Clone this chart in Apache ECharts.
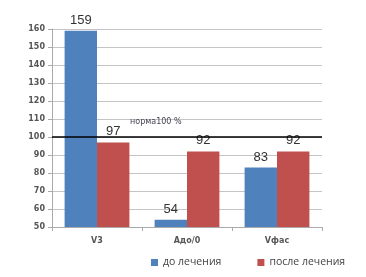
<!DOCTYPE html>
<html><head><meta charset="utf-8">
<script src="https://cdn.jsdelivr.net/npm/echarts@6/dist/echarts.min.js"></script>
<style>html,body{margin:0;padding:0;background:#fff}#c{width:366px;height:277px}</style>
</head><body><div id="c"></div>
<script>
const categories = ['V3', 'Адо/0', 'Vфас'];
const beforeValues = [159, 54, 83];
const afterValues = [97, 92, 92];
const seriesNames = ['до лечения', 'после лечения'];
const normValue = 100;
const normLabel = 'норма100 %';

const chart = echarts.init(document.getElementById('c'));
const dataLabel = {show: true, position: 'top', distance: 4, color: '#333', fontSize: 13, fontFamily: 'Liberation Sans'};
chart.setOption({
  animation: false,
  grid: {left: 52, right: 44, top: 29, bottom: 50},
  legend: {
    bottom: 4, left: 146, itemWidth: 7, itemHeight: 7, itemGap: 36, icon: 'rect',
    textStyle: {color: '#444', fontSize: 10.5, fontFamily: 'Open Sans'},
    data: seriesNames
  },
  xAxis: {
    type: 'category', data: categories,
    axisLine: {lineStyle: {color: '#aaa'}},
    axisTick: {show: true, length: 4, lineStyle: {color: '#aaa'}},
    axisLabel: {color: '#555', fontSize: 8, fontWeight: 'bold', margin: 10, fontFamily: 'DejaVu Sans'}
  },
  yAxis: {
    type: 'value', min: 50, max: 160, interval: 10,
    axisLine: {show: true, lineStyle: {color: '#aaa'}},
    axisTick: {show: true, length: 4, lineStyle: {color: '#aaa'}},
    splitLine: {lineStyle: {color: '#c4c4c4'}},
    axisLabel: {color: '#555', fontSize: 8, fontWeight: 'bold', margin: 7, fontFamily: 'DejaVu Sans'}
  },
  series: [
    {name: seriesNames[0], type: 'bar', data: beforeValues, barGap: '0%', barCategoryGap: '28%',
     itemStyle: {color: '#4F81BD'}, label: dataLabel},
    {name: seriesNames[1], type: 'bar', data: afterValues,
     itemStyle: {color: '#C0504D'}, label: dataLabel,
     markLine: {
       silent: true, symbol: 'none',
       data: [{yAxis: normValue}],
       lineStyle: {color: '#000', width: 1.5, type: 'solid'},
       label: {show: true, position: 'insideStartTop', formatter: normLabel, color: '#445', fontSize: 8,
               fontFamily: 'DejaVu Sans', padding: [0, 0, 6, 73]}
     }}
  ]
});
</script></body></html>
